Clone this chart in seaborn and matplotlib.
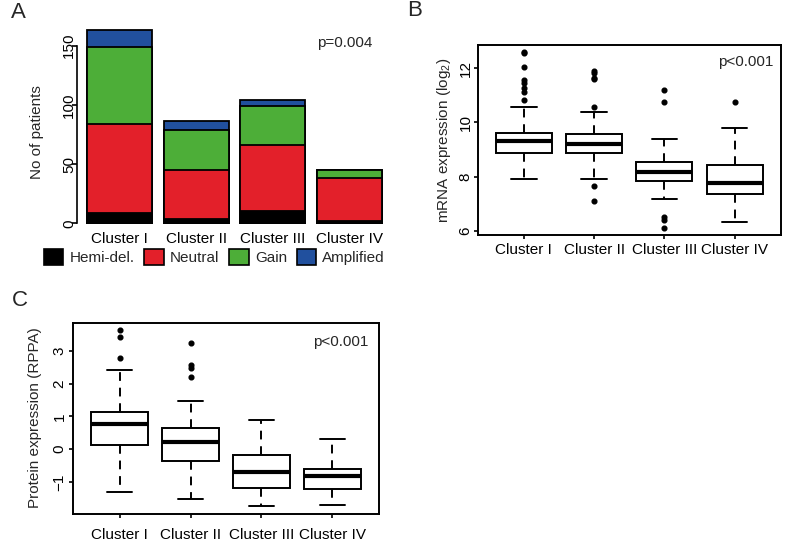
import numpy as np
import pandas as pd
import matplotlib
matplotlib.use("Agg")
import matplotlib.pyplot as plt
from matplotlib.patches import Patch
import seaborn as sns

W, H = 787, 541

clusters = ["Cluster I", "Cluster II", "Cluster III", "Cluster IV"]

# A: number of patients per copy-number status
hemi_del = [9, 4, 10, 2]
neutral = [75, 41, 56, 36]
gain = [65, 34, 33, 7]
amplified = [14, 7, 5, 0]
cn_labels = ["Hemi-del.", "Neutral", "Gain", "Amplified"]
cn_colors = ["#000000", "#E3202A", "#4DAE38", "#21509E"]

# B: mRNA expression (log2), box summary per cluster
mrna_low = [7.90, 7.92, 7.18, 6.32]
mrna_q1 = [8.88, 8.88, 7.83, 7.37]
mrna_med = [9.31, 9.22, 8.17, 7.78]
mrna_q3 = [9.62, 9.57, 8.55, 8.42]
mrna_high = [10.58, 10.38, 9.40, 9.79]
mrna_out = [[12.61, 12.55, 12.06, 11.56, 11.46, 11.29, 11.12, 10.82],
            [11.91, 11.81, 11.66, 11.60, 10.58, 7.66, 7.10],
            [11.19, 10.76, 6.49, 6.39, 6.09],
            [10.76]]

# C: protein expression (RPPA), box summary per cluster
prot_low = [-1.31, -1.52, -1.75, -1.70]
prot_q1 = [0.12, -0.35, -1.19, -1.22]
prot_med = [0.77, 0.23, -0.71, -0.83]
prot_q3 = [1.14, 0.65, -0.18, -0.60]
prot_high = [2.42, 1.46, 0.88, 0.31]
prot_out = [[3.65, 3.43, 2.77],
            [3.23, 2.57, 2.47, 2.21],
            [],
            []]

sns.set_style("ticks")
plt.rcParams['font.family'] = ['Liberation Sans', 'DejaVu Sans']
plt.rcParams['mathtext.fontset'] = 'custom'
plt.rcParams['mathtext.rm'] = 'Liberation Sans'
plt.rcParams['mathtext.it'] = 'Liberation Sans'
plt.rcParams['axes.edgecolor'] = 'black'
plt.rcParams['xtick.color'] = 'black'
plt.rcParams['ytick.color'] = 'black'
FS = 11


def add_axes_px(fig, left, top, right, bottom):
    return fig.add_axes([left / W, 1 - bottom / H, (right - left) / W, (bottom - top) / H])


def fig_xy(x, y):
    return x / W, 1 - y / H


def rotate_yticks(ax, pad):
    ax.tick_params(axis='y', labelrotation=90, pad=pad, labelsize=FS)
    for t in ax.get_yticklabels():
        t.set_va('center')


fig = plt.figure(figsize=(W / 100, H / 100), dpi=100)

# ---------------- A: stacked bars
ax_a = add_axes_px(fig, 77, 22.6, 395.1, 231)
df_a = pd.DataFrame({"cluster": clusters, "Hemi-del.": hemi_del, "Neutral": neutral,
                     "Gain": gain, "Amplified": amplified})
cum = df_a[cn_labels].cumsum(axis=1)
cum["cluster"] = clusters
# tallest first, each smaller stack drawn on top
for lab, col in reversed(list(zip(cn_labels, cn_colors))):
    sns.barplot(data=cum, x="cluster", y=lab, color=col, saturation=1, width=0.85,
                edgecolor="black", linewidth=1.3, errorbar=None, ax=ax_a)
ax_a.set_xlim(-0.56, 3.6)
ax_a.set_ylim(-6.5, 169.5)
ax_a.set_yticks([0, 50, 100, 150])
sns.despine(ax=ax_a, bottom=True)
ax_a.spines['left'].set_bounds(0, 150)
ax_a.spines['left'].set_linewidth(1.2)
ax_a.tick_params(axis='x', length=0, pad=0.5, labelsize=FS)
ax_a.tick_params(axis='y', length=3.3, width=1.2)
rotate_yticks(ax_a, -2.5)
ax_a.set_xlabel("")
ax_a.set_ylabel("No of patients", fontsize=FS, va='center')
ax_a.yaxis.set_label_coords(*fig_xy(37.5, 131.7), transform=fig.transFigure)

handles = [Patch(facecolor=c, edgecolor="black", linewidth=1.2, label=l)
           for l, c in zip(cn_labels, cn_colors)]
fig.legend(handles=handles, loc="center left", bbox_to_anchor=fig_xy(44, 257), ncol=4,
           frameon=False, borderpad=0, borderaxespad=0, handlelength=1.27, handleheight=1.27,
           handletextpad=0.4, columnspacing=0.65, fontsize=FS)


def draw_boxes(ax, low, q1, med, q3, high, outs):
    stats = [dict(whislo=a, q1=b, med=c, q3=d, whishi=e, fliers=f)
             for a, b, c, d, e, f in zip(low, q1, med, q3, high, outs)]
    ax.bxp(stats, positions=[1, 2, 3, 4], widths=0.8, capwidths=0.36, patch_artist=True,
           manage_ticks=False,
           boxprops=dict(facecolor="white", edgecolor="black", linewidth=1.4),
           medianprops=dict(color="black", linewidth=3, solid_capstyle="butt"),
           whiskerprops=dict(color="black", linewidth=1.4, linestyle=(0, (4.5, 3.5))),
           capprops=dict(color="black", linewidth=1.4),
           flierprops=dict(marker="o", markerfacecolor="black", markeredgecolor="black",
                           markersize=3.4, linestyle="none"))
    ax.set_xlim(0.34, 4.66)
    ax.set_xticks([1, 2, 3, 4])
    ax.set_xticklabels(clusters)
    for s in ax.spines.values():
        s.set_linewidth(1.4)
    ax.tick_params(length=3, width=1.2, labelsize=FS)


# ---------------- B: mRNA
ax_b = add_axes_px(fig, 477.5, 44.75, 781, 235.3)
draw_boxes(ax_b, mrna_low, mrna_q1, mrna_med, mrna_q3, mrna_high, mrna_out)
ax_b.set_ylim(5.83, 12.87)
ax_b.set_yticks([6, 8, 10, 12])
ax_b.tick_params(axis='x', pad=2.4)
rotate_yticks(ax_b, 0.6)
ax_b.set_ylabel(r"mRNA expression (log$_2$)", fontsize=FS, va='center')
ax_b.yaxis.set_label_coords(*fig_xy(444, 140), transform=fig.transFigure)

# ---------------- C: protein
ax_c = add_axes_px(fig, 72.7, 322.5, 379.3, 513.5)
draw_boxes(ax_c, prot_low, prot_q1, prot_med, prot_q3, prot_high, prot_out)
ax_c.set_ylim(-1.966, 3.866)
ax_c.set_yticks([-1, 0, 1, 2, 3])
ax_c.tick_params(axis='x', pad=7.3)
rotate_yticks(ax_c, 1.3)
ax_c.set_ylabel("Protein expression (RPPA)", fontsize=FS, va='center')
ax_c.yaxis.set_label_coords(*fig_xy(35.5, 418), transform=fig.transFigure)

# p-values and panel letters
fig.text(*fig_xy(372, 42.7), "p=0.004", ha="right", va="center", fontsize=FS)
fig.text(*fig_xy(773, 61.7), "p<0.001", ha="right", va="center", fontsize=FS)
fig.text(*fig_xy(368, 341.7), "p<0.001", ha="right", va="center", fontsize=FS)
fig.text(*fig_xy(18, 12), "A", ha="center", va="center", fontsize=16)
fig.text(*fig_xy(415, 11), "B", ha="center", va="center", fontsize=16)
fig.text(*fig_xy(20, 301), "C", ha="center", va="center", fontsize=16)

fig.savefig("out.png", dpi=100)
